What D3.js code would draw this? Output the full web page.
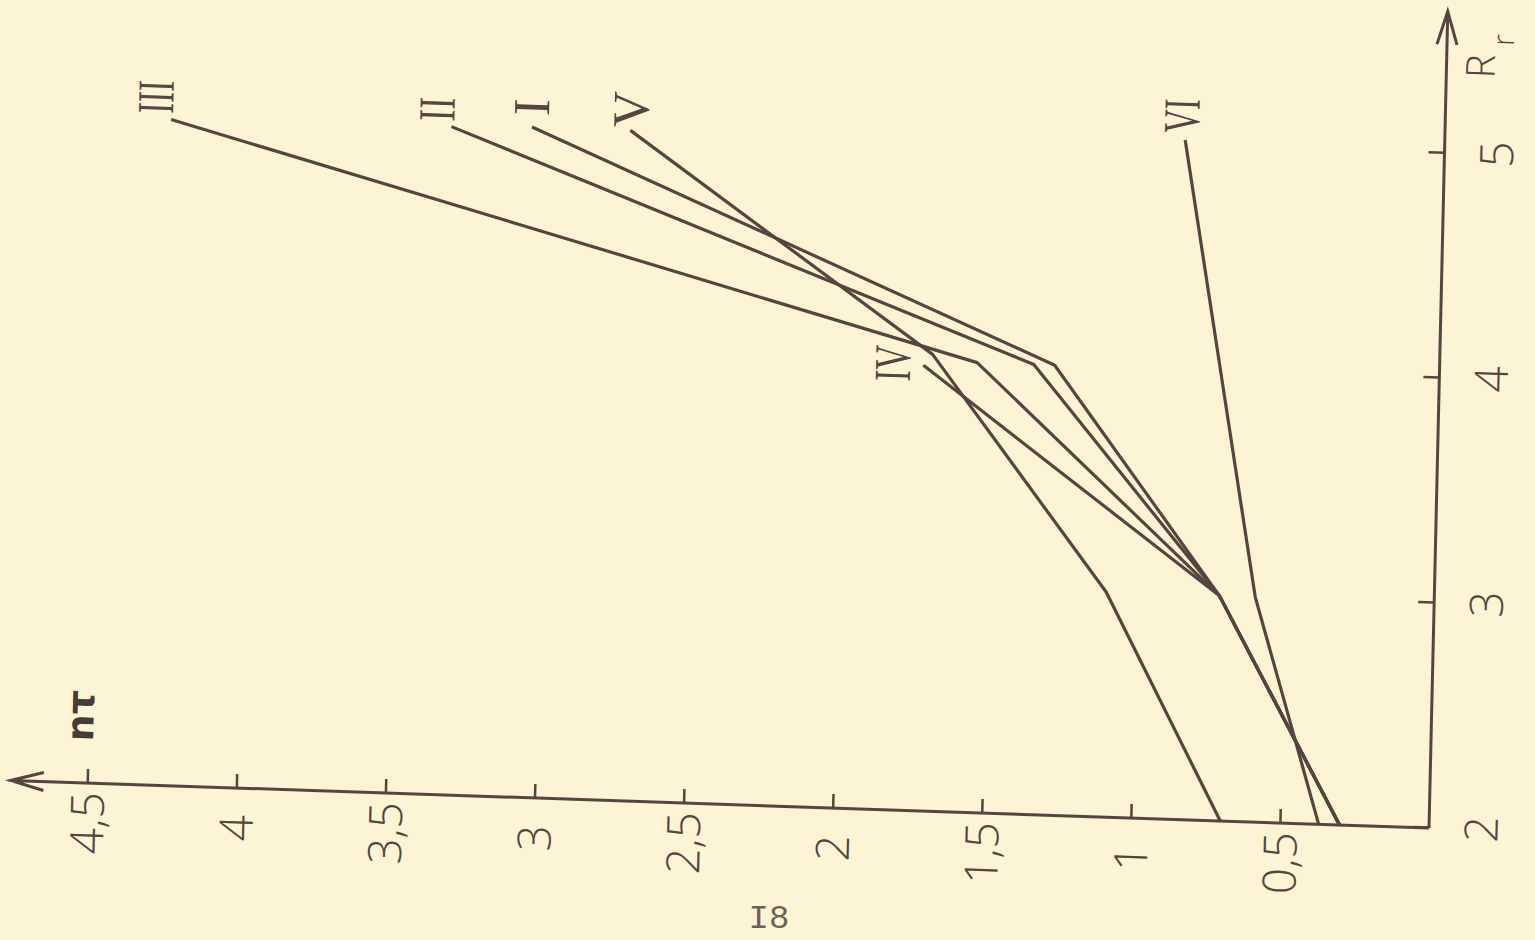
<!DOCTYPE html>
<html>
<head>
<meta charset="utf-8">
<script src="https://cdn.jsdelivr.net/npm/d3@7"></script>
<style>
  body { margin: 0; background: #fbf4d5; }
  svg { display: block; }
</style>
</head>
<body>
<div id="chart"></div>
<script>
var svgWidth = 1535;
var svgHeight = 940;

// curves, points as [Rr, n tau]
var curveNames = ["I", "II", "III", "IV", "V", "VI"];
var curveI   = [[2, 0.30], [3, 0.72], [4, 1.29], [4.98, 3.06]];
var curveII  = [[2, 0.30], [3, 0.72], [4, 1.36], [4.97, 3.33]];
var curveIII = [[2, 0.30], [3, 0.72], [4, 1.55], [4.96, 4.27]];
var curveIV  = [[2, 0.30], [3, 0.72], [3.98, 1.73]];
var curveV   = [[2, 0.70], [3, 1.10], [4.03, 1.70], [4.98, 2.73]];
var curveVI  = [[2, 0.37], [3, 0.60], [5.02, 0.87]];
var curves = [curveI, curveII, curveIII, curveIV, curveV, curveVI];

// axis ticks
var rTicks = [2, 3, 4, 5];
var rLabels = ["2", "3", "4", "5"];
var ntTicks = [0.5, 1, 1.5, 2, 2.5, 3, 3.5, 4, 4.5];
var ntLabels = ["0,5", "1", "1,5", "2", "2,5", "3", "3,5", "4", "4,5"];

// label placement next to the end of each curve
var labelOffsets = [[20, -1], [17, -15], [22, -16], [1, -31], [21, 0], [24, -4]];
var labelLengths = [17, 24, 33, 36, 36, 34];

var ink = "#54453f";

var svg = d3.select("#chart")
  .append("svg")
  .attr("width", svgWidth)
  .attr("height", svgHeight);

svg.append("rect")
  .attr("width", svgWidth)
  .attr("height", svgHeight)
  .attr("fill", "#fbf4d5");

// the sheet is turned a quarter turn (and a bit skewed) on the scan
var chartGroup = svg.append("g")
  .attr("transform", "matrix(0.02296,-0.99974,0.99944,0.03352,1429,828)");

var xScale = d3.scaleLinear().domain([2, 5]).range([0, 675]);
var yScale = d3.scaleLinear().domain([0, 4.5]).range([0, -1342.5]);

// axis lines with open arrow heads
var rMax = 5.63, ntMax = 4.757;
chartGroup.append("path")
  .attr("d", `M0,0 L${xScale(rMax)},0 M${xScale(rMax) - 33},-10 L${xScale(rMax)},0 L${xScale(rMax) - 33},10`)
  .attr("fill", "none").attr("stroke", ink).attr("stroke-width", 3);
chartGroup.append("path")
  .attr("d", `M0,0 L0,${yScale(ntMax)} M-9,${yScale(ntMax) + 33} L0,${yScale(ntMax)} L9,${yScale(ntMax) + 33}`)
  .attr("fill", "none").attr("stroke", ink).attr("stroke-width", 3);

var bottomAxis = d3.axisBottom(xScale)
  .tickValues(rTicks)
  .tickSize(-16)
  .tickFormat((d, i) => rLabels[i]);
var leftAxis = d3.axisLeft(yScale)
  .tickValues(ntTicks)
  .tickSize(-14)
  .tickFormat((d, i) => ntLabels[i]);

var gx = chartGroup.append("g").call(bottomAxis);
var gy = chartGroup.append("g").call(leftAxis);

[gx, gy].forEach(g => {
  g.select(".domain").remove();
  g.selectAll(".tick line").attr("stroke", ink).attr("stroke-width", 2.5);
  g.selectAll(".tick text")
    .attr("fill", "#54453f")
    .style("font-family", "'Open Sans', 'DejaVu Sans', sans-serif")
    .style("font-weight", 300)
    .style("font-size", "46px");
});
gx.selectAll(".tick text").attr("y", 52).attr("dy", "0.36em");
gy.selectAll(".tick text").attr("x", -40).attr("dy", "0.36em").attr("text-anchor", "middle");

// axis titles
chartGroup.append("text")
  .attr("x", 763).attr("y", 34).attr("dy", "0.36em")
  .attr("text-anchor", "middle")
  .attr("fill", "#54453f")
  .style("font-family", "'Open Sans', sans-serif")
  .style("font-weight", 300)
  .style("font-size", "40px")
  .text("R");
chartGroup.append("text")
  .attr("x", 790).attr("y", 56).attr("dy", "0.36em")
  .attr("text-anchor", "middle")
  .attr("fill", "#54453f")
  .style("font-family", "'Open Sans', sans-serif")
  .style("font-weight", 300)
  .style("font-size", "30px")
  .text("r");
chartGroup.append("text")
  .attr("x", 67).attr("y", yScale(4.53)).attr("dy", "0.36em")
  .attr("text-anchor", "middle")
  .attr("fill", "#4a3b36")
  .style("font-family", "'DejaVu Sans', sans-serif")
  .style("font-weight", "bold")
  .style("font-size", "38px")
  .text("nτ");

// curves
var line = d3.line()
  .x(d => xScale(d[0]))
  .y(d => yScale(d[1]));

chartGroup.selectAll(".curve")
  .data(curves)
  .enter()
  .append("path")
  .attr("class", "curve")
  .attr("d", line)
  .attr("fill", "none")
  .attr("stroke", ink)
  .attr("stroke-width", 3.2)
  .attr("stroke-linejoin", "round");

chartGroup.selectAll(".curveLabel")
  .data(curves)
  .enter()
  .append("text")
  .attr("class", "curveLabel")
  .attr("x", (d, i) => xScale(d[d.length - 1][0]) + labelOffsets[i][0])
  .attr("y", (d, i) => yScale(d[d.length - 1][1]) + labelOffsets[i][1])
  .attr("dy", "0.34em")
  .attr("text-anchor", "middle")
  .attr("textLength", (d, i) => labelLengths[i])
  .attr("lengthAdjust", "spacingAndGlyphs")
  .attr("fill", "#54473f")
  .style("font-family", "'Liberation Serif', serif")
  .style("font-size", "52px")
  .text((d, i) => curveNames[i]);

// page number
svg.append("text")
  .attr("x", 769).attr("y", 928)
  .attr("text-anchor", "middle")
  .attr("fill", "#6d6058")
  .style("font-family", "'Liberation Mono', monospace")
  .style("font-size", "34px")
  .text("I8");
</script>
</body>
</html>
